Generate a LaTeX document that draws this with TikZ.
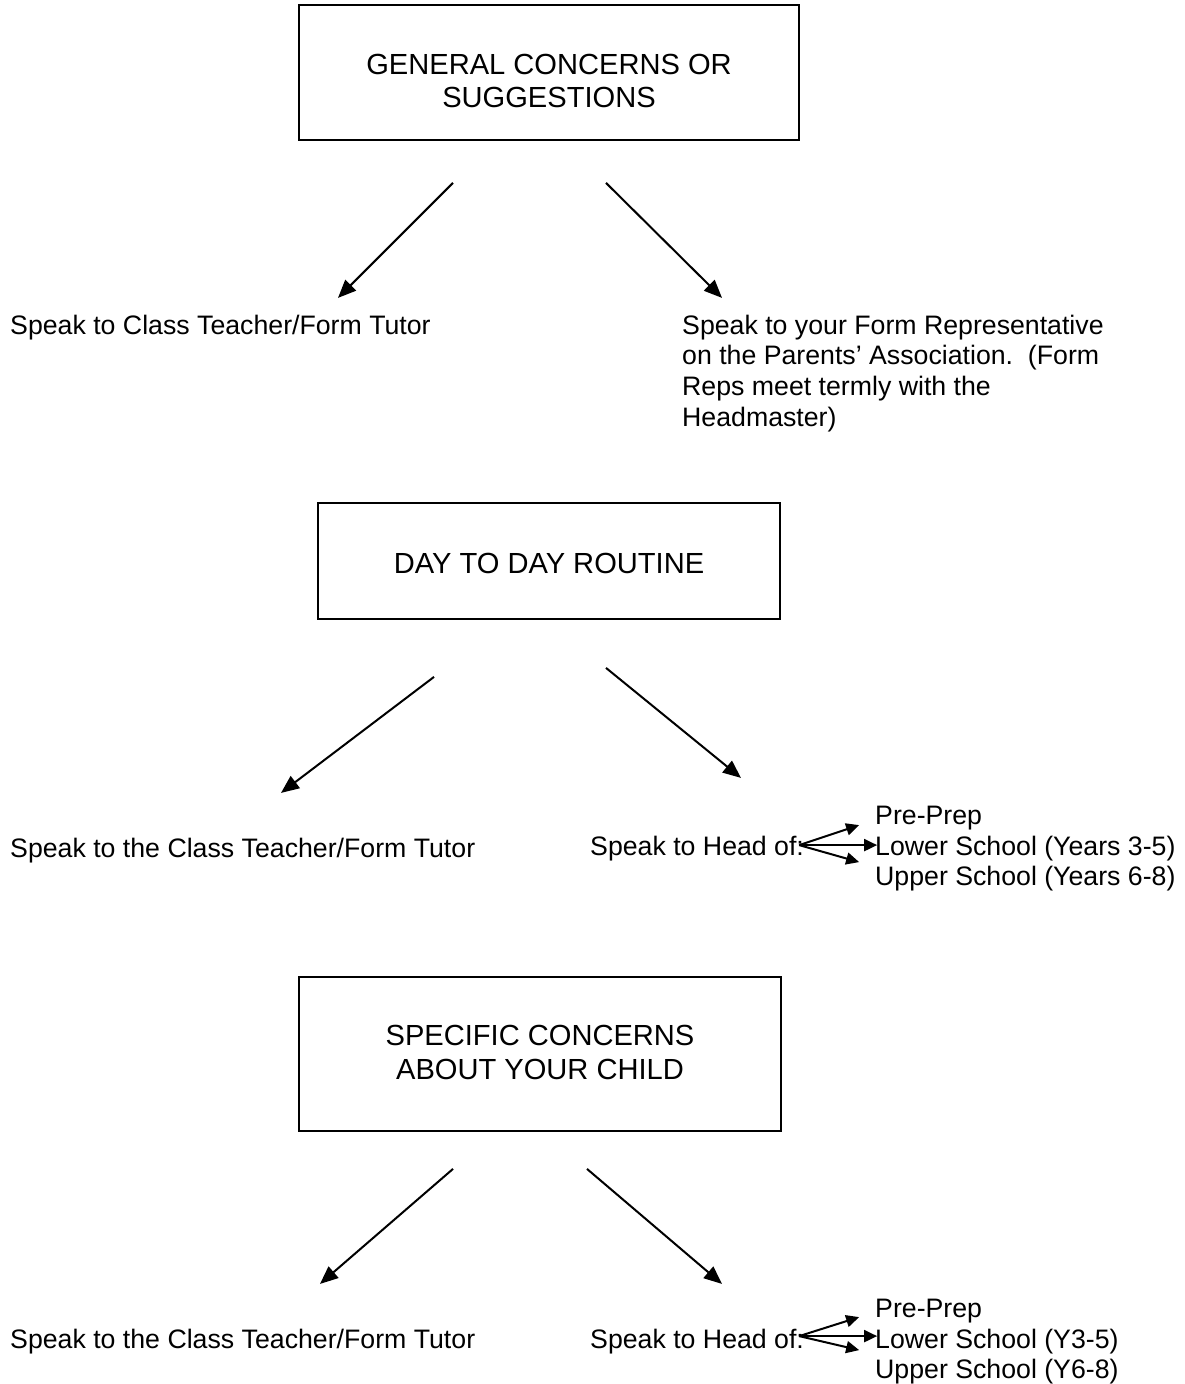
\documentclass[tikz,border=0pt]{standalone}
\usepackage{fontspec}
\setmainfont{Liberation Sans}
\usetikzlibrary{arrows.meta}

\begin{document}
\begin{tikzpicture}[
    x=1pt, y=-1pt,
    box/.style={%
      draw,
      rectangle,
      line width=1.8pt,
    },
    title/.style={%
      align=center,
      inner sep=0pt,
      font=\fontsize{29.1}{33.5}\selectfont,
    },
    txt/.style={%
      align=left,
      inner sep=0pt,
      font=\fontsize{26.7}{30.7}\selectfont,
    },
    arr/.style={%
      line width=2pt,
      -{Triangle[length=18pt,width=15pt]},
    },
    fan/.style={%
      line width=2pt,
      -{Triangle[length=13pt,width=12pt]},
    },
  ]

    \useasboundingbox (0,0) rectangle (1184,1384);

    \node [box, minimum width=500, minimum height=135] (general) at (549,72.5) {};
    \node [title] (generalText) at (549,81) {GENERAL CONCERNS OR\\SUGGESTIONS};
    \node [txt, anchor=base west] (class1) at (10,334) {Speak to Class Teacher/Form Tutor};
    \node [txt, anchor=north west] (rep1) at (682,314.5) {Speak to your Form Representative\\on the Parents’ Association.\ \ (Form\\Reps meet termly with the\\Headmaster)};

    \node [box, minimum width=462, minimum height=116] (routine) at (549,561) {};
    \node [title] (routineText) at (549,563) {DAY TO DAY ROUTINE};
    \node [txt, anchor=base west] (class2) at (10,857) {Speak to the Class Teacher/Form Tutor};
    \node [txt, anchor=base west] (head2) at (590,855) {Speak to Head of:};
    \node [txt, anchor=north west] (list2) at (875,806) {Pre-Prep\\Lower School (Years 3-5)\\Upper School (Years 6-8)};

    \node [box, minimum width=482, minimum height=154] (specific) at (540,1054) {};
    \node [title] (specificText) at (540,1052.5) {SPECIFIC CONCERNS\\ABOUT YOUR CHILD};
    \node [txt, anchor=base west] (class3) at (10,1348) {Speak to the Class Teacher/Form Tutor};
    \node [txt, anchor=base west] (head3) at (590,1348) {Speak to Head of:};
    \node [txt, anchor=north west] (list3) at (875,1299) {Pre-Prep\\Lower School (Y3-5)\\Upper School (Y6-8)};

    \path (general.south) ++(-96,42) coordinate (gL) ++(-115,115) coordinate (gLEnd);
    \path (general.south) ++(57,42) coordinate (gR) ++(116,115) coordinate (gREnd);
    \path (routine.south) ++(-115,57) coordinate (rL) ++(-153,116) coordinate (rLEnd);
    \path (routine.south) ++(57,48) coordinate (rR) ++(135,110) coordinate (rREnd);
    \path (specific.south) ++(-87,37) coordinate (sL) ++(-133,115) coordinate (sLEnd);
    \path (specific.south) ++(47,37) coordinate (sR) ++(135,115) coordinate (sREnd);

    \draw [arr] (gL) -- (gLEnd);
    \draw [arr] (gR) -- (gREnd);
    \draw [arr] (rL) -- (rLEnd);
    \draw [arr] (rR) -- (rREnd);
    \draw [arr] (sL) -- (sLEnd);
    \draw [arr] (sR) -- (sREnd);

    \path (head2.east) ++(-5,-3) coordinate (fan2);
    \path (fan2) ++(60,-20) coordinate (fan2a);
    \path (fan2) ++(78,0) coordinate (fan2b);
    \path (fan2) ++(60,17) coordinate (fan2c);
    \path (head3.east) ++(-5,-5) coordinate (fan3);
    \path (fan3) ++(60,-19) coordinate (fan3a);
    \path (fan3) ++(78,0) coordinate (fan3b);
    \path (fan3) ++(60,14) coordinate (fan3c);

    \draw [fan] (fan2) -- (fan2a);
    \draw [fan] (fan2) -- (fan2b);
    \draw [fan] (fan2) -- (fan2c);
    \draw [fan] (fan3) -- (fan3a);
    \draw [fan] (fan3) -- (fan3b);
    \draw [fan] (fan3) -- (fan3c);
\end{tikzpicture}
\end{document}
